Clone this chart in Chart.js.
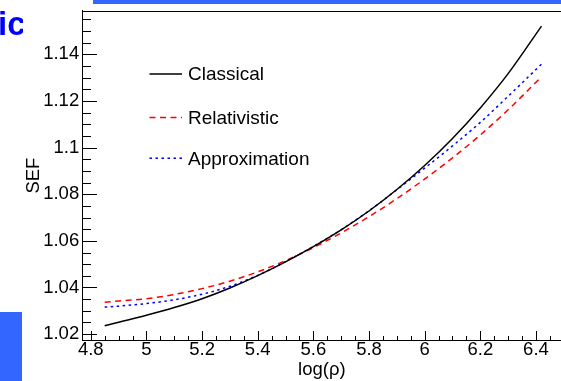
<!DOCTYPE html>
<html><head><meta charset="utf-8">
<script src="https://cdn.jsdelivr.net/npm/chart.js@4.4.0/dist/chart.umd.min.js"></script>
<style>
html,body{margin:0;padding:0;background:#fff;}
#wrap{position:relative;width:561px;height:381px;overflow:hidden;background:#fff;}
#c{position:absolute;left:0;top:0;}
.bar-top{position:absolute;left:93px;top:0;width:468px;height:4px;background:#3366ff;}
.bar-left{position:absolute;left:0;top:312px;width:22px;height:69px;background:#3366ff;}
.ic{position:absolute;left:0;top:7px;width:23px;height:32px;overflow:hidden;font:bold 33px "Liberation Sans",Arial,sans-serif;line-height:33px;color:#0000ff;white-space:nowrap;}
.ic span{position:relative;left:-2px;}
</style></head><body>
<div id="wrap">
<canvas id="c" width="561" height="381"></canvas>
<div class="bar-top"></div><div class="bar-left"></div>
<div class="ic"><span>ic</span></div>
</div>
<script>
const logRho = [4.85, 4.9, 5.0, 5.1, 5.2, 5.3, 5.4, 5.5, 5.6, 5.7, 5.8, 5.9, 6.0, 6.1, 6.2, 6.3, 6.42];
const classical = [1.0236, 1.0251, 1.0281, 1.0314, 1.0352, 1.0398, 1.0451, 1.0510, 1.0575, 1.0647, 1.0728, 1.0820, 1.0923, 1.1039, 1.1170, 1.1317, 1.1521];
const relativistic = [1.0337, 1.0342, 1.0352, 1.0370, 1.0395, 1.0427, 1.0467, 1.0515, 1.0571, 1.0634, 1.0704, 1.0781, 1.0865, 1.0956, 1.1054, 1.1162, 1.1304];
const approximation = [1.0316, 1.0320, 1.0331, 1.0347, 1.0371, 1.0405, 1.0452, 1.0511, 1.0576, 1.0648, 1.0729, 1.0819, 1.0912, 1.1007, 1.1108, 1.1220, 1.1358];
const seriesNames = ['Classical', 'Relativistic', 'Approximation'];
const xTickValues = [4.8, 5, 5.2, 5.4, 5.6, 5.8, 6, 6.2, 6.4];
const yTickValues = [1.02, 1.04, 1.06, 1.08, 1.1, 1.12, 1.14];
const xTitle = 'log(ρ)';
const yTitle = 'SEF';

const FONT = '"Liberation Sans", Arial, Helvetica, sans-serif';
const toPts = arr => arr.map((v, i) => ({x: logRho[i], y: v}));

const styles = [
  {color: '#000000', dash: []},
  {color: '#ff0000', dash: [6, 4.5]},
  {color: '#0000ff', dash: [2.5, 3.5]}
];
const series = [classical, relativistic, approximation];

const frameTicks = {
  id: 'frameTicks',
  afterDraw(chart) {
    const {ctx, chartArea: a, scales: {x, y}} = chart;
    ctx.save();
    ctx.strokeStyle = '#000';
    ctx.lineWidth = 1;
    ctx.beginPath();
    const top = Math.round(a.top) + 0.5;
    ctx.moveTo(a.left, top); ctx.lineTo(a.right, top);
    const lx = Math.round(a.left);
    for (let k = 200; k <= 240; k++) {
      const v = k / 200;
      if (v < y.min || v > y.max) continue;
      const py = Math.round(y.getPixelForValue(v)) + 0.5;
      const len = (k % 4 === 0) ? 14 : 8;
      ctx.moveTo(lx, py); ctx.lineTo(lx + len, py);
    }
    const by = Math.round(a.bottom);
    for (let k = 90; k <= 135; k++) {
      const v = k / 20;
      if (v < x.min || v > x.max) continue;
      const px = Math.round(x.getPixelForValue(v)) + 0.5;
      const len = (k % 4 === 0) ? 10 : 5;
      ctx.moveTo(px, by); ctx.lineTo(px, by - len);
    }
    ctx.stroke();
    ctx.restore();
  }
};

const legendBox = {
  id: 'legendBox',
  afterDraw(chart) {
    const {ctx} = chart;
    const rows = [74, 117.5, 158.3];
    ctx.save();
    ctx.font = '19px ' + FONT;
    ctx.textBaseline = 'middle';
    ctx.textAlign = 'left';
    seriesNames.forEach((name, i) => {
      const yy = rows[i];
      ctx.strokeStyle = styles[i].color;
      ctx.lineWidth = 1.5;
      ctx.setLineDash(styles[i].dash);
      ctx.beginPath();
      ctx.moveTo(149.5, yy); ctx.lineTo(182, yy);
      ctx.stroke();
      ctx.setLineDash([]);
      ctx.fillStyle = '#000';
      ctx.fillText(name, 188, yy + 1);
    });
    ctx.restore();
  }
};

new Chart(document.getElementById('c'), {
  type: 'line',
  data: {
    datasets: series.map((s, i) => ({
      label: seriesNames[i],
      data: toPts(s),
      borderColor: styles[i].color,
      borderDash: styles[i].dash,
      borderWidth: 1.5,
      pointRadius: 0,
      fill: false,
      cubicInterpolationMode: 'monotone'
    }))
  },
  options: {
    responsive: false,
    animation: false,
    devicePixelRatio: 1,
    layout: {padding: {left: 0, top: 10.7, right: 0, bottom: 0}},
    plugins: {legend: {display: false}, tooltip: {enabled: false}},
    scales: {
      x: {
        type: 'linear',
        min: 4.771, max: 6.49,
        afterBuildTicks: s => { s.ticks = xTickValues.map(v => ({value: v})); },
        afterFit: s => { s.height = 40.5; s.paddingLeft = 0; s.paddingRight = 0; },
        grid: {display: false, drawTicks: false},
        border: {display: true, color: '#000', width: 1},
        ticks: {
          color: '#000', padding: 0, maxRotation: 0, autoSkip: false,
          font: {family: FONT, size: 18.5, lineHeight: 1},
          callback: v => String(+Number(v).toFixed(3))
        },
        title: {display: true, text: xTitle, color: '#000', font: {family: FONT, size: 18.5, lineHeight: 1.2}, padding: {top: 1, bottom: 0}}
      },
      y: {
        type: 'linear',
        min: 1.01726, max: 1.1587,
        afterBuildTicks: s => { s.ticks = yTickValues.map(v => ({value: v})); },
        afterFit: s => { s.width = 82.7; s.paddingTop = 0; s.paddingBottom = 0; },
        grid: {display: false, drawTicks: false},
        border: {display: true, color: '#000', width: 1},
        ticks: {
          color: '#000', padding: 3.5, autoSkip: false,
          font: {family: FONT, size: 18.5, lineHeight: 1},
          callback: v => String(+Number(v).toFixed(3))
        },
        title: {display: true, text: yTitle, color: '#000', font: {family: FONT, size: 18.5, lineHeight: 1.2}, padding: {top: 22.9, bottom: 0}}
      }
    }
  },
  plugins: [frameTicks, legendBox]
});
</script>
</body></html>
